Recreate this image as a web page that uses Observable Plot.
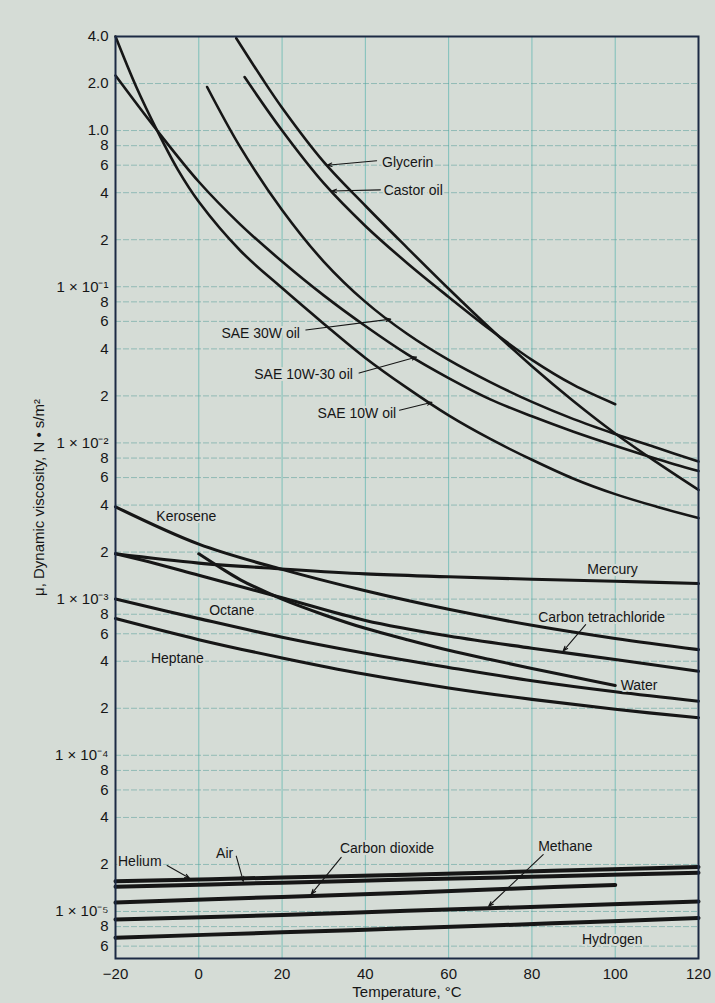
<!DOCTYPE html>
<html>
<head>
<meta charset="utf-8">
<script src="https://cdn.jsdelivr.net/npm/d3@7"></script>
<script src="https://cdn.jsdelivr.net/npm/@observablehq/plot@0.6"></script>
<style>
  html, body { margin: 0; padding: 0; background: #d5dcd6; }
  #chart svg { display: block; }
</style>
</head>
<body>
<div id="chart"></div>
<script>
// ---- Data: [temperature °C, dynamic viscosity N·s/m²] ----
const glycerin = [[9,3.9],[15,2.2],[20,1.4],[30,0.63],[40,0.33],[50,0.178],[60,0.097],[70,0.054],[80,0.031],[90,0.0185],[100,0.0115],[110,0.0075],[120,0.005]];
const castorOil = [[11,2.2],[20,1.0],[30,0.46],[40,0.245],[50,0.142],[60,0.086],[70,0.053],[80,0.034],[90,0.0235],[100,0.0177]];
const sae30W = [[2,1.9],[10,0.78],[20,0.31],[30,0.145],[40,0.080],[50,0.050],[60,0.034],[70,0.0245],[80,0.0183],[90,0.0142],[100,0.0114],[110,0.0093],[120,0.0076]];
const sae10W30 = [[-20,2.25],[-10,1.0],[0,0.47],[10,0.25],[20,0.145],[30,0.088],[40,0.056],[50,0.037],[60,0.026],[70,0.019],[80,0.0148],[90,0.0118],[100,0.0096],[110,0.0079],[120,0.0066]];
const sae10W = [[-20,4.0],[-15,1.9],[-10,1.0],[-5,0.56],[0,0.35],[10,0.17],[20,0.098],[30,0.058],[40,0.035],[50,0.0225],[60,0.015],[70,0.0106],[80,0.0078],[90,0.0059],[100,0.0047],[110,0.0039],[120,0.0033]];

const kerosene = [[-20,3.9e-3],[0,2.25e-3],[20,1.55e-3],[40,1.13e-3],[60,8.6e-4],[80,6.8e-4],[100,5.6e-4],[120,4.75e-4]];
const mercury = [[-20,1.95e-3],[0,1.7e-3],[20,1.56e-3],[40,1.45e-3],[60,1.39e-3],[80,1.34e-3],[100,1.3e-3],[120,1.26e-3]];
const carbonTet = [[-20,1.95e-3],[-10,1.68e-3],[0,1.42e-3],[20,1.02e-3],[40,7.3e-4],[60,5.8e-4],[80,4.85e-4],[100,4.1e-4],[120,3.45e-4]];
const water = [[0,1.95e-3],[5,1.6e-3],[10,1.33e-3],[20,1.0e-3],[30,7.95e-4],[40,6.5e-4],[50,5.5e-4],[60,4.7e-4],[70,4.1e-4],[80,3.6e-4],[90,3.17e-4],[100,2.8e-4]];
const octane = [[-20,1.0e-3],[0,7.5e-4],[20,5.7e-4],[40,4.5e-4],[60,3.65e-4],[80,3.0e-4],[100,2.55e-4],[120,2.22e-4]];
const heptane = [[-20,7.5e-4],[0,5.5e-4],[20,4.2e-4],[40,3.3e-4],[60,2.7e-4],[80,2.28e-4],[100,1.97e-4],[120,1.74e-4]];

const helium = [[-20,1.56e-5],[20,1.65e-5],[50,1.72e-5],[85,1.82e-5],[120,1.93e-5]];
const air = [[-20,1.44e-5],[20,1.53e-5],[50,1.60e-5],[85,1.68e-5],[120,1.77e-5]];
const carbonDioxide = [[-20,1.14e-5],[20,1.24e-5],[50,1.32e-5],[75,1.40e-5],[100,1.48e-5]];
const methane = [[-20,8.9e-6],[20,9.5e-6],[50,1.01e-5],[85,1.08e-5],[120,1.16e-5]];
const hydrogen = [[-20,6.8e-6],[20,7.35e-6],[50,7.8e-6],[85,8.4e-6],[120,9.1e-6]];

// ---- Ticks ----
const xTicks = [-20, 0, 20, 40, 60, 80, 100, 120];
const yTicks = [4,2,1,0.8,0.6,0.4,0.2,0.1,0.08,0.06,0.04,0.02,0.01,0.008,0.006,0.004,0.002,0.001,8e-4,6e-4,4e-4,2e-4,1e-4,8e-5,6e-5,4e-5,2e-5,1e-5,8e-6,6e-6];
const yTickLabels = ["4.0","2.0","1.0","8","6","4","2","1 × 10⁻¹","8","6","4","2","1 × 10⁻²","8","6","4","2","1 × 10⁻³","8","6","4","2","1 × 10⁻⁴","8","6","4","2","1 × 10⁻⁵","8","6"];
const yLabel = "μ, Dynamic viscosity, N • s/m²";
const xLabel = "Temperature, °C";

// ---- Annotations (positions in data coordinates) ----
const labelText = ["Glycerin","Castor oil","SAE 30W oil","SAE 10W-30 oil","SAE 10W oil","Kerosene","Mercury","Carbon tetrachloride","Water","Octane","Heptane","Helium","Air","Carbon dioxide","Methane","Hydrogen"];
const labelT =    [44, 44.4, 24.3, 37, 47.4, -10.2, 93.3, 81.5, 101.3, 2.5, -11.5, -19.4, 6.2, 33.9, 81.5, 92];
const labelMu =   [0.62, 0.41, 0.05, 0.0275, 0.0155, 3.4e-3, 1.54e-3, 7.67e-4, 2.8e-4, 8.4e-4, 4.17e-4, 2.1e-5, 2.36e-5, 2.53e-5, 2.59e-5, 6.6e-6];
const labelAnchor = ["start","start","end","end","end","start","start","start","start","start","start","start","middle","start","start","start"];

const arrowFrom = [[42.7,0.64],[43.6,0.417],[25.7,0.0528],[38.5,0.028],[48.2,0.0162],[92.9,6.87e-4],[-7.6,1.97e-5],[9,2.26e-5],[34.2,2.22e-5],[82.7,2.31e-5]];
const arrowTo =   [[30.8,0.60],[31.9,0.41],[46.1,0.062],[52.3,0.0355],[56,0.0182],[87.5,4.65e-4],[-2.2,1.63e-5],[10.7,1.56e-5],[27,1.29e-5],[69.6,1.08e-5]];

// ---- Build tables ----
const rows = (name, pts) => pts.map(([T, mu]) => ({fluid: name, T, mu}));
const oilRows = [
  ...rows("Glycerin", glycerin), ...rows("Castor oil", castorOil),
  ...rows("SAE 30W oil", sae30W), ...rows("SAE 10W-30 oil", sae10W30), ...rows("SAE 10W oil", sae10W)
];
const liquidRows = [
  ...rows("Kerosene", kerosene), ...rows("Mercury", mercury), ...rows("Carbon tetrachloride", carbonTet),
  ...rows("Water", water), ...rows("Octane", octane), ...rows("Heptane", heptane)
];
const gasRows = [
  ...rows("Helium", helium), ...rows("Air", air), ...rows("Carbon dioxide", carbonDioxide),
  ...rows("Methane", methane), ...rows("Hydrogen", hydrogen)
];
const labels = labelText.map((text, i) => ({text, T: labelT[i], mu: labelMu[i], anchor: labelAnchor[i]}));
const arrows = arrowFrom.map((f, i) => ({x1: f[0], y1: f[1], x2: arrowTo[i][0], y2: arrowTo[i][1]}));
const yTickRows = yTicks.map((v, i) => ({v, label: yTickLabels[i]}));

const bg = "#d5dcd6";
const ink = "#161616";
const font = "'Liberation Sans', Arial, Helvetica, sans-serif";

const textMarks = ["start", "end", "middle"].map(a =>
  Plot.text(labels.filter(d => d.anchor === a), {
    x: "T", y: "mu", text: "text", textAnchor: a,
    fontSize: 14, fill: ink, stroke: bg, strokeWidth: 4, paintOrder: "stroke"
  })
);

const chart = Plot.plot({
  width: 715,
  height: 1003,
  marginTop: 36,
  marginBottom: 45,
  marginLeft: 115,
  marginRight: 17,
  style: {background: bg, fontFamily: font, color: ink},
  x: {domain: [-20, 120], axis: null},
  y: {type: "log", domain: [5e-6, 4], axis: null},
  marks: [
    Plot.gridX(xTicks.slice(1, -1), {stroke: "#4fb0aa", strokeOpacity: 0.65, strokeWidth: 1}),
    Plot.gridY(yTicks.slice(1), {stroke: "#5a9f9b", strokeOpacity: 0.55, strokeWidth: 1, strokeDasharray: "6,2"}),
    Plot.axisX(xTicks, {tickSize: 0, tickPadding: 10, fontSize: 15, fill: ink,
      label: xLabel, labelAnchor: "center", labelArrow: "none", labelOffset: 38}),
    // y tick labels drawn through the y scale
    Plot.text(yTickRows, {y: "v", text: "label", frameAnchor: "left", textAnchor: "end", dx: -7,
      fontSize: 15, fill: ink}),
    // y axis title
    Plot.text([yLabel], {frameAnchor: "left", textAnchor: "middle", rotate: -90, dx: -76, fontSize: 15, fill: ink}),
    Plot.line(oilRows, {x: "T", y: "mu", z: "fluid", stroke: ink, strokeWidth: 2.6, curve: "catmull-rom"}),
    Plot.line(liquidRows, {x: "T", y: "mu", z: "fluid", stroke: ink, strokeWidth: 3.1, curve: "catmull-rom"}),
    Plot.line(gasRows, {x: "T", y: "mu", z: "fluid", stroke: ink, strokeWidth: 4, curve: "catmull-rom"}),
    ...textMarks,
    Plot.arrow(arrows, {x1: "x1", y1: "y1", x2: "x2", y2: "y2", stroke: ink, strokeWidth: 1.1, headLength: 7, headAngle: 40}),
    Plot.frame({stroke: "#1c2a44", strokeWidth: 2})
  ]
});
chart.querySelectorAll("text").forEach(t => { if (!t.getAttribute("font-family")) t.setAttribute("font-family", font); });
document.getElementById("chart").appendChild(chart);
</script>
</body>
</html>
